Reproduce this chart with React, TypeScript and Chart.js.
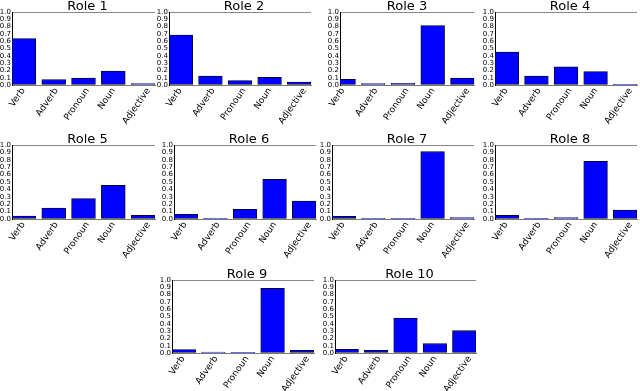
import React, { useEffect, useRef } from "react";
import { Chart, registerables } from "chart.js";

Chart.register(...registerables);

const categories = ["Verb", "Adverb", "Pronoun", "Noun", "Adjective"];
const roleTitles = ["Role 1", "Role 2", "Role 3", "Role 4", "Role 5", "Role 6", "Role 7", "Role 8", "Role 9", "Role 10"];
const yTickLabels = ["0.0", "0.1", "0.2", "0.3", "0.4", "0.5", "0.6", "0.7", "0.8", "0.9", "1.0"];

const role1 = [0.635, 0.073, 0.096, 0.19, 0.018];
const role2 = [0.685, 0.123, 0.06, 0.105, 0.04];
const role3 = [0.078, 0.018, 0.023, 0.815, 0.096];
const role4 = [0.452, 0.123, 0.25, 0.183, 0.005];
const role5 = [0.04, 0.149, 0.275, 0.455, 0.05];
const role6 = [0.063, 0.004, 0.13, 0.536, 0.243];
const role7 = [0.036, 0.004, 0.009, 0.91, 0.018];
const role8 = [0.05, 0.002, 0.018, 0.78, 0.122];
const role9 = [0.046, 0.014, 0.01, 0.886, 0.037];
const role10 = [0.05, 0.037, 0.48, 0.128, 0.306];

const roleValues = [role1, role2, role3, role4, role5, role6, role7, role8, role9, role10];

// panel plot-area geometry (page pixels) and x-range start
const panelLayout = [
  { L: 12, R: 155, T: 12, B: 85, xmin: 0 },
  { L: 169, R: 311, T: 12, B: 85, xmin: 0 },
  { L: 340, R: 474, T: 12, B: 85, xmin: 0.28 },
  { L: 495, R: 637, T: 12, B: 85, xmin: 0 },
  { L: 12, R: 155, T: 145, B: 219, xmin: 0 },
  { L: 174, R: 316, T: 145, B: 219, xmin: 0 },
  { L: 332, R: 474, T: 145, B: 219, xmin: 0 },
  { L: 495, R: 637, T: 145, B: 219, xmin: 0 },
  { L: 172, R: 314, T: 280, B: 353, xmin: 0 },
  { L: 335, R: 476, T: 280, B: 353, xmin: 0 },
];

const FONT = "'DejaVu Sans', sans-serif";
const XFONT_SIZE = 9;
const XROT = 55;
const XMAX = 4.8;

function Panel({ title, values, geo }: { title: string; values: number[]; geo: any }) {
  const ref = useRef<HTMLCanvasElement>(null);
  const yW = 14;
  const titleH = 11;
  const xH = 46;
  const unit = (geo.R - geo.L) / (XMAX - geo.xmin);
  const L0 = geo.L - geo.xmin * unit;
  const tc = (L0 + geo.R) / 2 + 4;
  const rp = Math.max(1, 2 * tc - geo.L - geo.R + yW);
  const width = Math.round(yW + (geo.R - geo.L) + rp);
  const height = titleH + (geo.B - geo.T) + xH;

  useEffect(() => {
    const canvas = ref.current as HTMLCanvasElement;
    const mctx = canvas.getContext("2d") as CanvasRenderingContext2D;
    mctx.font = `${XFONT_SIZE}px ${FONT}`;
    const cosR = Math.cos((XROT * Math.PI) / 180);
    // emulate centred rotated labels: each label box centred a little left of its bar centre
    const tickValues = categories.map((c, i) => {
      const L = mctx.measureText(c).width;
      const shiftPx = -6.5 + (L * cosR) / 2;
      return i + 0.4 + shiftPx / unit;
    });

    const chart = new Chart(canvas, {
      type: "bar",
      data: {
        datasets: [
          {
            data: values.map((v, i) => ({ x: i + 0.4, y: v })),
            backgroundColor: "#0000ff",
            borderColor: "#000000",
            borderWidth: 0.8,
            borderSkipped: false,
            barThickness: 0.8 * unit,
            clip: 0,
          } as any,
        ],
      },
      options: {
        responsive: false,
        maintainAspectRatio: false,
        animation: false,
        layout: { padding: 0 },
        events: [],
        plugins: {
          legend: { display: false },
          tooltip: { enabled: false },
          title: {
            display: true,
            text: title,
            color: "#000",
            padding: 0,
            font: { family: FONT, size: 13, weight: "normal", lineHeight: "11px" } as any,
          },
        },
        scales: {
          x: {
            type: "linear",
            min: geo.xmin,
            max: XMAX,
            offset: false,
            grid: { display: false, drawTicks: false, offset: false },
            border: { display: true, color: "#777", width: 1 },
            afterBuildTicks: (s: any) => {
              s.ticks = tickValues.map((v) => ({ value: v }));
            },
            afterFit: (s: any) => {
              s.height = xH;
            },
            ticks: {
              autoSkip: false,
              minRotation: XROT,
              maxRotation: XROT,
              padding: 1,
              color: "#000",
              font: { family: FONT, size: XFONT_SIZE },
              callback: (_v: any, i: number) => categories[i],
            },
          } as any,
          y: {
            type: "linear",
            min: 0,
            max: 1,
            afterFit: (s: any) => {
              s.width = yW;
            },
            ticks: {
              stepSize: 0.1,
              autoSkip: false,
              padding: 1,
              color: "#000",
              font: { family: FONT, size: 7 },
              callback: (_v: any, i: number) => yTickLabels[i],
            },
            grid: {
              drawTicks: false,
              color: (ctx: any) =>
                ctx.tick && Math.abs(ctx.tick.value - 1) < 1e-6 ? "#888888" : "rgba(0,0,0,0)",
            },
            border: { display: true, color: "#000", width: 1 },
          } as any,
          pad: {
            type: "linear",
            position: "right",
            display: true,
            grid: { display: false },
            border: { display: false },
            ticks: { display: false },
            afterFit: (s: any) => {
              s.width = rp;
            },
          } as any,
        },
      },
    });
    return () => chart.destroy();
  }, []);

  return (
    <canvas
      ref={ref}
      width={width}
      height={height}
      style={{
        position: "absolute",
        left: geo.L - yW,
        top: geo.T - titleH,
        width: width,
        height: height,
      }}
    />
  );
}

export default function App() {
  return (
    <div
      style={{
        position: "absolute",
        left: 0,
        top: 0,
        width: 640,
        height: 391,
        overflow: "hidden",
        background: "#fff",
      }}
    >
      {panelLayout.map((geo, k) => (
        <Panel key={k} title={roleTitles[k]} values={roleValues[k]} geo={geo} />
      ))}
    </div>
  );
}
